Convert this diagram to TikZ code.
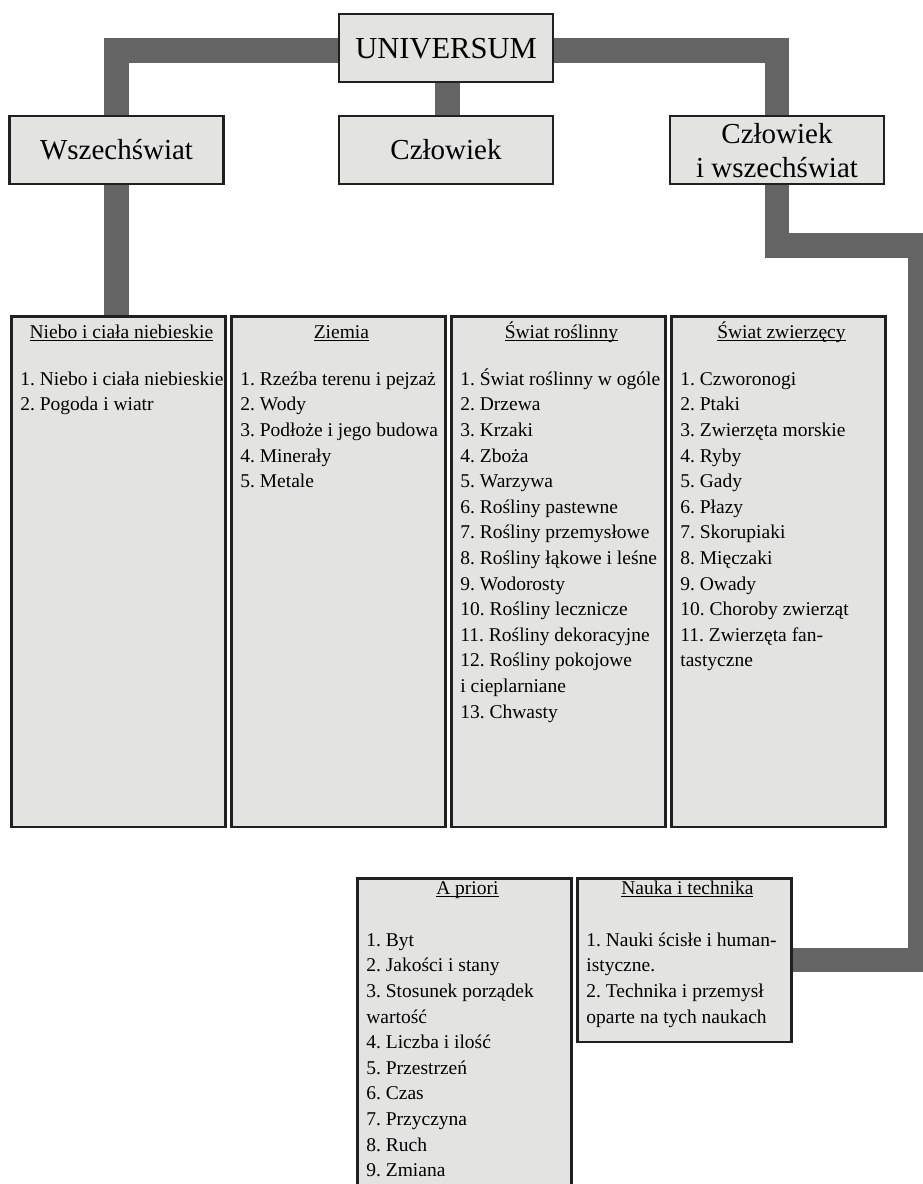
\documentclass[tikz,border=0pt]{standalone}
\usepackage{fontspec}
\setmainfont{Liberation Serif}
\usetikzlibrary{backgrounds}
\frenchspacing
\definecolor{barc}{HTML}{646464}
\definecolor{edgec}{HTML}{202020}
\definecolor{boxc}{HTML}{E3E3E2}
\newcommand\myul[1]{\setbox0=\hbox{#1}\rlap{\rule[-3pt]{\wd0}{0.9pt}}\box0}
\newcommand\listpar[1]{\parbox[t]{240pt}{\raggedright #1}}
\tikzset{
  conn/.style={draw=barc, line width=24.5pt},
  topbox/.style={draw=edgec, fill=boxc, line width=2.4pt, minimum width=214pt,
    minimum height=68pt, inner sep=0pt, font=\fontsize{29}{34}\selectfont,
    text height=19pt, text depth=0pt},
  listbox/.style={draw=edgec, fill=boxc, line width=2.4pt, minimum width=214pt,
    inner sep=0pt, anchor=north west},
  lhead/.style={anchor=base, inner sep=0pt, font=\fontsize{19.5}{25.6}\selectfont},
  litems/.style={anchor=base west, inner sep=0pt, font=\fontsize{19.5}{25.6}\selectfont},
}
\begin{document}
\begin{tikzpicture}[x=1pt,y=-1pt]
\useasboundingbox (0,0) rectangle (922,1184);
\clip (0,0) rectangle (922,1184);

% top level
\node[topbox, font=\fontsize{30.5}{34}\selectfont, text height=20pt] (univ) at (446,48) {UNIVERSUM};
\node[topbox] (wsz) at (116.5,150) {Wszechświat};
\node[topbox] (czl) at (446,150) {Człowiek};
\node[topbox] (cw) at (777,150) {};
\node[anchor=base, inner sep=0pt, font=\fontsize{29}{34}\selectfont] (cwtext) at (777,143)
  {\parbox[t]{216pt}{\centering Człowiek\\i wszechświat}};

% list boxes
\node[listbox, minimum height=510.6pt] (niebo) at (10.2,315.2) {};
\node[listbox, minimum height=510.6pt] (ziemia) at (230.2,315.2) {};
\node[listbox, minimum height=510.6pt] (rosl) at (450.2,315.2) {};
\node[listbox, minimum height=510.6pt] (zwierz) at (670.2,315.2) {};
\node[listbox, minimum height=400pt] (apriori) at (356.2,877.2) {};
\node[listbox, minimum height=163.6pt] (nauka) at (576.2,877.2) {};

\node[lhead] (nieboH) at ([xshift=3pt,yshift=-23pt]niebo.north) {\myul{Niebo i ciała niebieskie}};
\node[lhead] (ziemiaH) at ([xshift=3pt,yshift=-23pt]ziemia.north) {\myul{Ziemia}};
\node[lhead] (roslH) at ([xshift=3pt,yshift=-23pt]rosl.north) {\myul{Świat roślinny}};
\node[lhead] (zwierzH) at ([xshift=3pt,yshift=-23pt]zwierz.north) {\myul{Świat zwierzęcy}};
\node[lhead] (aprioriH) at ([xshift=3pt,yshift=-17pt]apriori.north) {\myul{A priori}};
\node[lhead] (naukaH) at ([xshift=3pt,yshift=-17pt]nauka.north) {\myul{Nauka i technika}};

\node[litems] (nieboL) at ([xshift=10pt,yshift=-70pt]niebo.north west)
  {\listpar{1. Niebo i ciała niebieskie\\2. Pogoda i wiatr}};
\node[litems] (ziemiaL) at ([xshift=10pt,yshift=-70pt]ziemia.north west)
  {\listpar{1. Rzeźba terenu i pejzaż\\2. Wody\\3. Podłoże i jego budowa\\4. Minerały\\5. Metale}};
\node[litems] (roslL) at ([xshift=10pt,yshift=-70pt]rosl.north west)
  {\listpar{1. Świat roślinny w ogóle\\2. Drzewa\\3. Krzaki\\4. Zboża\\5. Warzywa\\6. Rośliny pastewne\\7. Rośliny przemysłowe\\8. Rośliny łąkowe i leśne\\9. Wodorosty\\10. Rośliny lecznicze\\11. Rośliny dekoracyjne\\12. Rośliny pokojowe\\i cieplarniane\\13. Chwasty}};
\node[litems] (zwierzL) at ([xshift=10pt,yshift=-70pt]zwierz.north west)
  {\listpar{1. Czworonogi\\2. Ptaki\\3. Zwierzęta morskie\\4. Ryby\\5. Gady\\6. Płazy\\7. Skorupiaki\\8. Mięczaki\\9. Owady\\10. Choroby zwierząt\\11. Zwierzęta fan-\\tastyczne}};
\node[litems] (aprioriL) at ([xshift=10pt,yshift=-69pt]apriori.north west)
  {\listpar{1. Byt\\2. Jakości i stany\\3. Stosunek porządek\\wartość\\4. Liczba i ilość\\5. Przestrzeń\\6. Czas\\7. Przyczyna\\8. Ruch\\9. Zmiana}};
\node[litems] (naukaL) at ([xshift=10pt,yshift=-69pt]nauka.north west)
  {\listpar{1. Nauki ścisłe i human-\\istyczne.\\2. Technika i przemysł\\oparte na tych naukach}};

\coordinate (bendA) at (920,245.5);

\begin{scope}[on background layer]
  \draw[conn] ([yshift=-2.5pt]univ.west) -| (wsz.north);
  \draw[conn] ([yshift=-2.5pt]univ.east) -| (cw.north);
  \draw[conn] ([xshift=1.5pt]univ.south) -- ([xshift=1.5pt]czl.north);
  \draw[conn] (wsz.south) -- (wsz.south |- niebo.north);
  \draw[conn] (cw.south) |- (bendA) |- (nauka.east);
\end{scope}
\end{tikzpicture}
\end{document}
